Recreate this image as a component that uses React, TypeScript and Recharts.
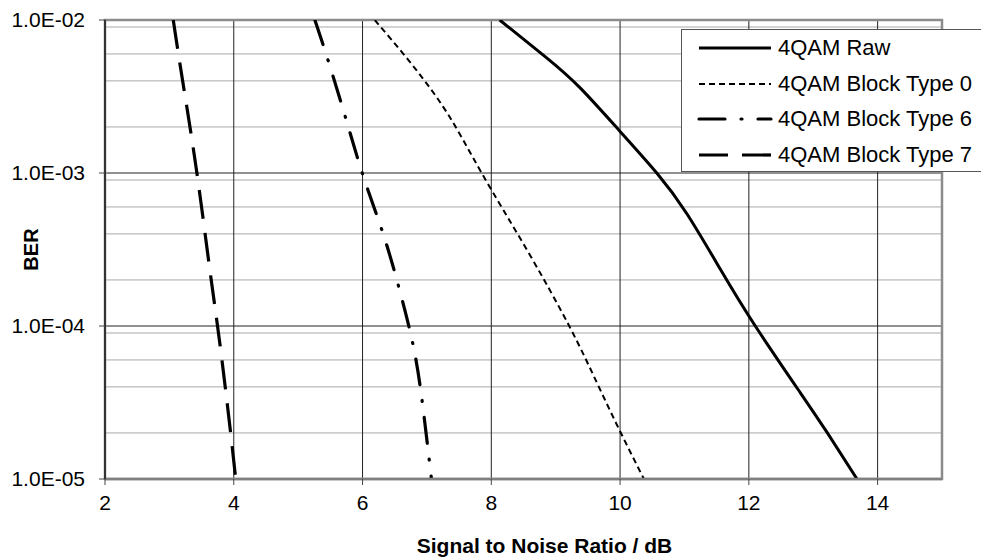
import React from 'react';
import {
    LineChart,
    Line,
    XAxis,
    YAxis,
    CartesianGrid,
    ReferenceArea
} from 'recharts';

// SNR (dB) / BER pairs
const rawSnr = [8.13, 8.86, 9.38, 10.0, 10.57, 11.04, 11.56, 12.1, 12.8, 13.22, 13.68];
const rawBer = [1e-2, 5.66e-3, 3.6e-3, 1.87e-3, 1e-3, 5.4e-4, 2.34e-4, 1e-4, 3.66e-5, 2.0e-5, 1e-5];

const type0Snr = [6.19, 6.77, 7.33, 7.85, 8.55, 9.21, 9.64, 10.0, 10.37];
const type0Ber = [1e-2, 5.1e-3, 2.41e-3, 1e-3, 3.16e-4, 1e-4, 4.26e-5, 2.05e-5, 1e-5];

const type6Snr = [5.26, 5.48, 5.75, 6.02, 6.32, 6.58, 6.8, 6.94, 7.07];
const type6Ber = [1e-2, 5.2e-3, 2.2e-3, 9.3e-4, 4.0e-4, 1.69e-4, 7.0e-5, 2.9e-5, 1e-5];

const type7Snr = [3.06, 3.21, 3.42, 3.63, 3.78, 3.94, 4.03];
const type7Ber = [1e-2, 3.9e-3, 1.05e-3, 2.3e-4, 7.9e-5, 2.2e-5, 1e-5];

const snrTicks = [2, 4, 6, 8, 10, 12, 14];
const berTicks = [1e-5, 1e-4, 1e-3, 1e-2];
const berMinor = [
    2e-5, 3e-5, 4e-5, 5e-5, 6e-5, 7e-5, 8e-5, 9e-5,
    2e-4, 3e-4, 4e-4, 5e-4, 6e-4, 7e-4, 8e-4, 9e-4,
    2e-3, 3e-3, 4e-3, 5e-3, 6e-3, 7e-3, 8e-3, 9e-3
];

const toPoints = (snr: number[], ber: number[]) => snr.map((x, i) => ({ x, y: ber[i] }));

const series = [
    { name: '4QAM Raw', data: toPoints(rawSnr, rawBer), width: 3, dash: undefined as string | undefined, cap: 'butt' },
    { name: '4QAM Block Type 0', data: toPoints(type0Snr, type0Ber), width: 2, dash: '6 4', cap: 'butt' },
    { name: '4QAM Block Type 6', data: toPoints(type6Snr, type6Ber), width: 3.2, dash: '26 16 1 16', cap: 'round' },
    { name: '4QAM Block Type 7', data: toPoints(type7Snr, type7Ber), width: 3.2, dash: '29 14', cap: 'butt' }
];

const fmtBer = (v: number) => {
    const [m, e] = v.toExponential(1).split('e');
    const n = Math.abs(parseInt(e, 10));
    return `${m}E${e.startsWith('-') ? '-' : '+'}${n < 10 ? '0' : ''}${n}`;
};

const font = '"Liberation Sans", Arial, sans-serif';

const BerLegend = () => (
    <div
        style={{
            position: 'absolute',
            left: 681,
            top: 29,
            width: 320,
            height: 143,
            background: '#fff',
            border: '1px solid #555',
            boxSizing: 'border-box'
        }}
    >
        {series.map((s, i) => (
            <div key={s.name} style={{ position: 'absolute', left: 0, top: 1 + i * 35.5, height: 34, display: 'flex', alignItems: 'center' }}>
                <svg width={92} height={34}>
                    <line
                        x1={17}
                        x2={89}
                        y1={17}
                        y2={17}
                        stroke="#000"
                        strokeWidth={s.width}
                        strokeDasharray={s.dash}
                        strokeLinecap={s.cap as any}
                    />
                </svg>
                <span style={{ fontSize: 22, marginLeft: 4, color: '#000', whiteSpace: 'nowrap', lineHeight: '34px' }}>{s.name}</span>
            </div>
        ))}
    </div>
);

const XTitle = (props: any) => {
    const { viewBox } = props;
    return (
        <text
            x={viewBox.x + viewBox.width / 2 + 21}
            y={viewBox.y + viewBox.height - 5}
            textAnchor="middle"
            fontWeight="bold"
            fontSize={21}
            fontFamily={font}
            fill="#000"
        >
            Signal to Noise Ratio / dB
        </text>
    );
};

export default function App() {
    return (
        <div style={{ position: 'absolute', left: 0, top: 0, width: 981, height: 558, overflow: 'hidden', background: '#fff', fontFamily: font }}>
            <LineChart width={981} height={558} margin={{ top: 20, right: 39, bottom: 0, left: 5 }}>
                <CartesianGrid horizontalValues={berMinor} vertical={false} stroke="#a8a8a8" strokeWidth={1} />
                <CartesianGrid stroke="#222" strokeWidth={1} />
                <XAxis
                    type="number"
                    dataKey="x"
                    domain={[2, 15]}
                    ticks={snrTicks}
                    allowDataOverflow
                    height={79}
                    tickSize={6}
                    tickMargin={10}
                    axisLine={{ stroke: '#808080', strokeWidth: 2.5 }}
                    tickLine={{ stroke: '#444' }}
                    tick={{ fill: '#000', fontSize: 21, fontFamily: font }}
                    label={<XTitle />}
                />
                <YAxis
                    type="number"
                    dataKey="y"
                    scale="log"
                    domain={[1e-5, 1e-2]}
                    ticks={berTicks}
                    allowDataOverflow
                    width={100}
                    tickSize={6}
                    tickMargin={14}
                    tickFormatter={fmtBer}
                    axisLine={{ stroke: '#333', strokeWidth: 2 }}
                    tickLine={{ stroke: '#444' }}
                    tick={{ fill: '#000', fontSize: 21, fontFamily: font }}
                    label={{
                        value: 'BER',
                        angle: -90,
                        position: 'insideLeft',
                        offset: 26,
                        style: { textAnchor: 'middle', fontWeight: 'bold', fontSize: 20, fill: '#000', fontFamily: font }
                    }}
                />
                {series.map((s) => (
                    <Line
                        key={s.name}
                        data={s.data}
                        dataKey="y"
                        name={s.name}
                        type="natural"
                        stroke="#000"
                        strokeWidth={s.width}
                        strokeDasharray={s.dash}
                        strokeLinecap={s.cap as any}
                        dot={false}
                        activeDot={false}
                        isAnimationActive={false}
                    />
                ))}
                <ReferenceArea x1={2} x2={15} y1={1e-5} y2={1e-2} fill="none" stroke="#8c8c8c" strokeWidth={2.5} />
            </LineChart>
            <BerLegend />
        </div>
    );
}
